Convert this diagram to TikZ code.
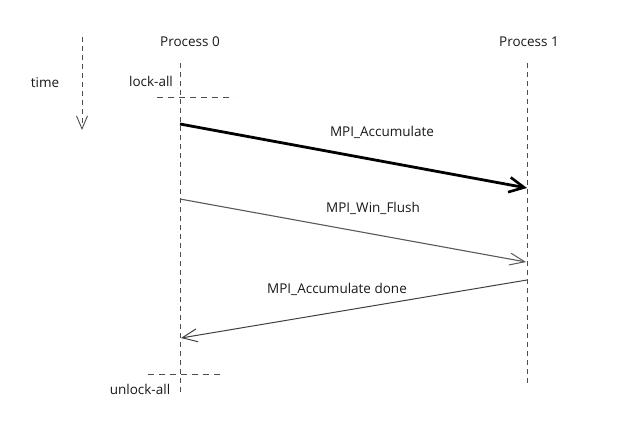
\documentclass[tikz,border=0pt]{standalone}
\usepackage{fontspec}
\setmainfont{Open Sans}
\usetikzlibrary{arrows.meta}
\begin{document}
\begin{tikzpicture}[x=1pt,y=-1pt,
  lifeline/.style={draw=black!70,line width=0.9pt,dash pattern=on 5pt off 4pt},
  guard/.style={draw=black!70,line width=0.9pt,dash pattern=on 6pt off 5pt},
  lbl/.style={font=\fontsize{13.5}{16}\selectfont,text=black!90,inner sep=0pt},
  heavy/.style={draw=black,line width=2.8pt,-{Straight Barb[length=15pt,width=15pt,line width=2.6pt]}},
  msg/.style={draw=black!65,line width=1.1pt,-{Straight Barb[length=15pt,width=12pt,line width=1pt]}},
  msgb/.style={draw=black!75,line width=1pt,-{Straight Barb[length=15pt,width=13pt,line width=1pt]}}]
\useasboundingbox (0,0) rectangle (631,429);
% labels
\node[lbl] (p0) at (190,42) {Process 0};
\node[lbl] (p1) at (529,42) {Process 1};
\node[lbl] (time) at (45,83) {time};
\node[lbl] (lock) at (151,81) {lock-all};
\node[lbl] (unlock) at (140,389) {unlock-all};
% time arrow
\coordinate (t0) at (82,37);
\coordinate (t1) at (82,130);
\draw[lifeline,-{Straight Barb[length=13pt,width=11pt,line width=0.9pt]}] (t0) -- (t1);
% lifelines
\coordinate (a0) at (180,63);
\coordinate (a1) at (180,392);
\coordinate (b0) at (527,63);
\coordinate (b1) at (527,386);
\draw[lifeline] (a0) -- (a1);
\draw[lifeline] (b0) -- (b1);
% lock / unlock guards
\coordinate (l0) at (157,97);
\coordinate (l1) at (234,97);
\coordinate (u0) at (148,374);
\coordinate (u1) at (224,374);
\draw[guard] (l0) -- (l1);
\draw[guard] (u0) -- (u1);
% messages
\coordinate (m1s) at (180,124);
\coordinate (m1e) at (527,188);
\coordinate (m2s) at (180,199);
\coordinate (m2e) at (526,262);
\coordinate (m3s) at (527,280);
\coordinate (m3e) at (181,338);
\draw[heavy] (m1s) -- (m1e);
\draw[msg] (m2s) -- (m2e);
\draw[msgb] (m3s) -- (m3e);
\node[lbl] (acc) at (382,132) {MPI\_Accumulate};
\node[lbl] (flush) at (373,208) {MPI\_Win\_Flush};
\node[lbl] (done) at (337,289) {MPI\_Accumulate done};
\end{tikzpicture}
\end{document}
